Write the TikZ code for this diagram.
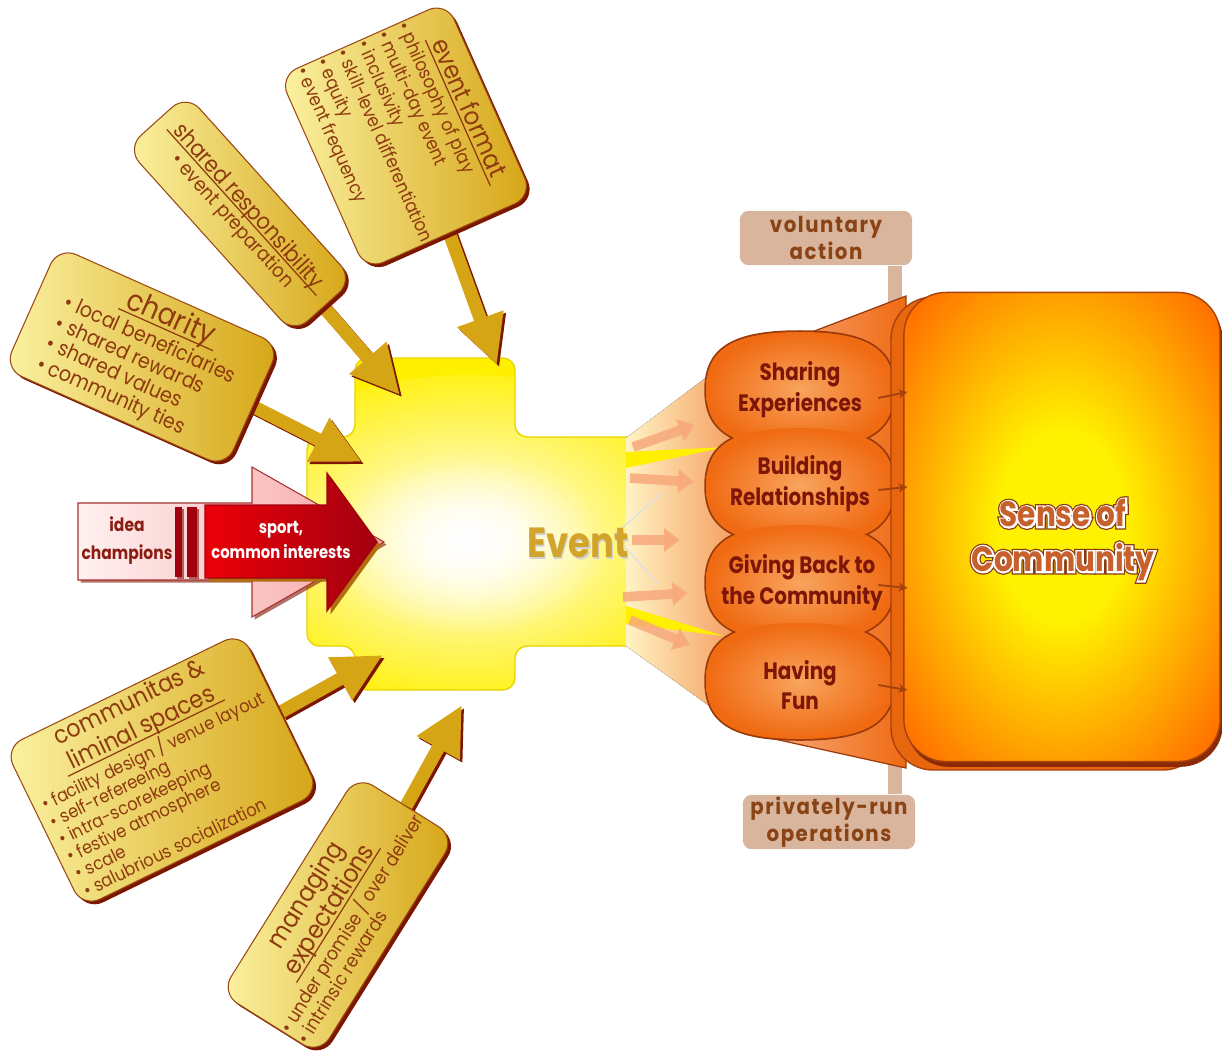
\documentclass[tikz,border=0pt]{standalone}
\usepackage{fontspec}
\setmainfont{Poppins}[FakeStretch=0.9]
\newfontfamily\heavy{Poppins}[FakeStretch=0.84]
\newfontfamily\heavyspaced{Poppins}[FakeStretch=0.9,LetterSpace=7]
\newfontfamily\haloinner{Poppins}[FakeStretch=0.84,FakeBold=10]
\newfontfamily\halouter{Poppins}[FakeStretch=0.84,FakeBold=17]
\usetikzlibrary{arrows.meta,shadows,fadings}

\definecolor{goldlight}{HTML}{FBF2A2}
\definecolor{golddark}{HTML}{D6A516}
\definecolor{goldedge}{HTML}{9A4A12}
\definecolor{darkshadow}{HTML}{7C1600}
\definecolor{calltext}{HTML}{8E3A0E}
\definecolor{evyellow}{HTML}{FFF000}
\definecolor{evedge}{HTML}{E8D400}
\definecolor{evgold}{HTML}{D2A42C}
\definecolor{fanlight}{HTML}{FFF3C4}
\definecolor{fandark}{HTML}{F59A5C}
\definecolor{peach}{HTML}{F7A97C}
\definecolor{bubble}{HTML}{F06A12}
\definecolor{bubblelight}{HTML}{F8A45E}
\definecolor{bubedge}{HTML}{9A3A0A}
\definecolor{bubbletext}{HTML}{7E1608}
\definecolor{boxorange}{HTML}{FF6C00}
\definecolor{boxyellow}{HTML}{FFF200}
\definecolor{boxside}{HTML}{E8660E}
\definecolor{boxedge}{HTML}{A8420C}
\definecolor{boxshadow}{HTML}{8A2A06}
\definecolor{sensetext}{HTML}{C8602C}
\definecolor{sensedark}{HTML}{8A3A10}
\definecolor{arrowbrown}{HTML}{A4420E}
\definecolor{tanbar}{HTML}{D8B59C}
\definecolor{tantext}{HTML}{8A4314}
\definecolor{pinklight}{HTML}{FFF1F1}
\definecolor{pinkdark}{HTML}{F5A3A3}
\definecolor{pinkedge}{HTML}{A83030}
\definecolor{redlight}{HTML}{EC0008}
\definecolor{reddark}{HTML}{A20010}
\definecolor{champtext}{HTML}{8B1E14}

\pgfdeclareradialshading{senseglow}{\pgfpoint{0bp}{0bp}}{%
  color(0bp)=(boxyellow); color(10bp)=(boxyellow); color(34bp)=(boxorange); color(70bp)=(boxorange)}
\tikzfading[name=glowfade, inner color=transparent!0, outer color=transparent!100]

\pgfdeclarelayer{stems}
\pgfdeclarelayer{boxes}
\pgfsetlayers{main,stems,boxes}

\setlength\arrayrulewidth{0.7pt}
% underlined heading and bullet list of a callout
\newcommand\callhead[3]{{\fontsize{#1}{#2}\selectfont
  \begin{tabular}{@{\hspace{3pt}}c@{\hspace{3pt}}}#3\\[-3pt]\hline\end{tabular}}}
\newcommand\calllist[3]{{\fontsize{#1}{#2}\selectfont
  \begin{tabular}{@{}l@{}}#3\end{tabular}}}

\tikzset{
  callout/.style={draw=goldedge, line width=0.6pt, rounded corners=11pt,
    left color=goldlight, right color=golddark, text=calltext,
    align=center, inner sep=1pt,
    drop shadow={shadow xshift=1.8pt, shadow yshift=-1.8pt, fill=darkshadow, opacity=1}},
  goldstem/.style={draw=golddark, line width=7.5pt, -{Triangle[length=28pt,width=26pt]},
    preaction={draw=darkshadow, line width=7.5pt, -{Triangle[length=28pt,width=26pt]},
      transform canvas={shift={(1.4pt,-1.4pt)}}}},
  peacharrow/.style={draw=peach, opacity=0.85, line width=5.5pt,
    -{Triangle[length=9pt,width=13pt]}},
  bubtext/.style={text=bubbletext, font=\heavy\bfseries\fontsize{13.5}{17.5}\selectfont,
    align=center, minimum width=107pt, minimum height=58pt, inner sep=0pt},
  smallarrow/.style={draw=arrowbrown, line width=1.1pt, -{Stealth[length=5pt,width=5pt]}},
  sidelabel/.style={fill=tanbar, rounded corners=5pt, text=tantext,
    font=\heavyspaced\bfseries\fontsize{12.5}{15.5}\selectfont, align=center,
    minimum width=98pt, minimum height=31pt, inner sep=1pt},
  evtext/.style={font=\heavy\bfseries\fontsize{24}{24}\selectfont, text=evgold},
  sensebox/.style={draw=boxedge, line width=0.8pt, rounded corners=24pt, shade, shading=senseglow,
    minimum width=180pt, minimum height=267pt, outer sep=0pt,
    drop shadow={shadow xshift=1.5pt, shadow yshift=-3pt, fill=boxshadow, opacity=1}},
  sensetext/.style={align=center},
  champtext/.style={font=\heavy\bfseries\fontsize{10.5}{16}\selectfont, align=center}
}

\begin{document}
\begin{tikzpicture}[x=0.02cm, y=-0.02cm]
\useasboundingbox (0,0) rectangle (1222,1061);

% labels at both ends of the bar
\coordinate (barx) at (895,0);
\node[sidelabel] (vol) at (826,238) {voluntary\\action};
\node[sidelabel] (priv) at (829,822) {privately-run\\operations};
\draw[draw=tanbar, line width=8pt] (vol.south -| barx) -- (priv.north -| barx);

% funnel from the bubbles to the big box
\draw[draw=bubedge, line width=0.7pt, left color=peach, right color=bubble]
  (770,348) -- (906,296) -- (906,768) -- (770,738) -- cycle;

% event cross with its glow
\draw[draw=evedge, line width=0.8pt, fill=evyellow, rounded corners=7pt,
  path picture={
    \fill[white, path fading=glowfade] (468,545) ellipse [x radius=270, y radius=170];
    \fill[white, path fading=glowfade] (468,545) ellipse [x radius=140, y radius=90];}]
  (355,358) -- (515,358) -- (515,437) -- (705,437) -- (705,646) -- (515,646)
  -- (515,690) -- (355,690) -- (355,646) -- (307,646) -- (307,437) -- (355,437) -- cycle;

% fan towards the bubbles
\fill[left color=fanlight, right color=fandark]
  (626,438) -- (740,352) -- (740,728) -- (626,646) -- cycle;
\fill[evyellow] (626,452) -- (726,447) -- (626,468) -- cycle;
\fill[evyellow] (626,606) -- (724,636) -- (626,624) -- cycle;
\draw[black!12, line width=0.8pt] (662,493) -- (614,535) -- (658,584);

\node[evtext, text=black!18] at ([shift={(1.5,1.5)}]578,543) {Event};
\node[evtext] (evt) at (578,543) {Event};

\draw[peacharrow] (633,447) -- (695,425);
\draw[peacharrow] (630,478) -- (694,482);
\draw[peacharrow] (632,540) -- (680,540);
\draw[peacharrow] (623,597) -- (688,593);
\draw[peacharrow] (630,620) -- (690,645);

% bubbles: outlines first, then the fills
\foreach \y in {390,486,583,681}
  \draw[draw=bubedge, line width=2pt] (706,\y) .. controls (706,\y-42) and (734,\y-58) .. (800,\y-58)
    .. controls (866,\y-58) and (894,\y-42) .. (894,\y) .. controls (894,\y+42) and (866,\y+58) .. (800,\y+58)
    .. controls (734,\y+58) and (706,\y+42) .. (706,\y) -- cycle;
\foreach \y in {390,486,583,681}
  \shade[inner color=bubblelight, outer color=bubble] (706,\y) .. controls (706,\y-42) and (734,\y-58) .. (800,\y-58)
    .. controls (866,\y-58) and (894,\y-42) .. (894,\y) .. controls (894,\y+42) and (866,\y+58) .. (800,\y+58)
    .. controls (734,\y+58) and (706,\y+42) .. (706,\y) -- cycle;

\node[bubtext] (share) at (800,390) {Sharing\\Experiences};
\node[bubtext] (build) at (800,484) {Building\\Relationships};
\node[bubtext] (give) at (802,583) {Giving Back to\\the Community};
\node[bubtext] (fun) at (800,685) {Having\\Fun};

% big box
\draw[draw=boxedge, line width=0.8pt, fill=boxside, rounded corners=24pt] (891,297) rectangle (1205,770);
\node[sensebox] (sense) at (1062,527) {};
\coordinate (sensemid) at (1063,540);
\node[sensetext, text=sensedark, font=\halouter\bfseries\fontsize{20}{25.5}\selectfont] at (sensemid) {Sense of\\Community};
\node[sensetext, text=white, font=\haloinner\bfseries\fontsize{20}{25.5}\selectfont] at (sensemid) {Sense of\\Community};
\node[sensetext, text=sensetext, font=\heavy\bfseries\fontsize{20}{25.5}\selectfont] (sensetxt) at (sensemid) {Sense of\\Community};

\draw[smallarrow] ([shift={(-16,8)}]share.east) -- ([shift={(13,2)}]share.east);
\draw[smallarrow] ([shift={(-16,6)}]build.east) -- ([shift={(13,3)}]build.east);
\draw[smallarrow] ([shift={(-18,2)}]give.east) -- ([shift={(11,5)}]give.east);
\draw[smallarrow] ([shift={(-16,0)}]fun.east) -- ([shift={(13,5)}]fun.east);

% idea champions arrow
\draw[draw=pinkedge, line width=0.6pt, left color=pinklight, right color=pinkdark,
  drop shadow={shadow xshift=1.5pt, shadow yshift=-1.5pt, fill=darkshadow, opacity=0.6}]
  (78,503) -- (252,503) -- (252,467) -- (384,542) -- (252,617) -- (252,580) -- (78,580) -- cycle;
\fill[reddark, drop shadow={shadow xshift=1.2pt, shadow yshift=-1.2pt, fill=darkshadow, opacity=0.6}]
  (175,507) rectangle (182,577);
\fill[reddark, drop shadow={shadow xshift=1.2pt, shadow yshift=-1.2pt, fill=darkshadow, opacity=0.6}]
  (187,507) rectangle (197,577);
\draw[draw=reddark, line width=0.6pt, left color=redlight, right color=reddark,
  drop shadow={shadow xshift=2pt, shadow yshift=-2pt, fill=golddark!60!darkshadow, opacity=1}]
  (205,505) -- (327,505) -- (327,473) -- (377,542) -- (327,611) -- (327,578) -- (205,578) -- cycle;
\node[champtext, text=champtext] (champ) at (127,541) {idea\\champions};
\node[champtext, text=white, font=\heavy\bfseries\fontsize{10}{14}\selectfont] (sport) at (281,540) {sport,\\common interests};

% the five callouts
\begin{pgfonlayer}{boxes}
\node[callout, rotate=-66, minimum width=120pt, minimum height=104pt] (fmt) at (406,136)
  {\callhead{14.5}{16}{event format}\\[1pt]
   \calllist{10.5}{12.6}{\textbullet\ philosophy of play\\ \textbullet\ multi-day event\\
     \textbullet\ inclusivity\\ \textbullet\ skill-level differentiation\\
     \textbullet\ equity\\ \textbullet\ event frequency}};
\node[callout, rotate=-48, minimum width=142pt, minimum height=46pt] (resp) at (240,214)
  {\callhead{13}{13.5}{shared responsibility}\\[1pt]
   \calllist{11.2}{11.5}{\textbullet\ event preparation\hspace{2.2em}}};
\node[callout, rotate=-24, minimum width=138pt, minimum height=76pt] (charity) at (142,357)
  {\hspace*{1.2em}\callhead{17}{16}{charity}\\[2pt]
   \calllist{12}{12.6}{\textbullet\ local beneficiaries\\ \textbullet\ shared rewards\\
     \textbullet\ shared values\\ \textbullet\ community ties}};
\node[callout, rotate=26, minimum width=150pt, minimum height=92pt] (commun) at (162,770)
  {\callhead{14}{16}{communitas \&\\ liminal spaces}\\[1pt]
   \calllist{10.3}{10.4}{\textbullet\ facility design / venue layout\\ \textbullet\ self-refereeing\\
     \textbullet\ intra-scorekeeping\\ \textbullet\ festive atmosphere\\
     \textbullet\ scale\\ \textbullet\ salubrious socialization}};
\node[callout, rotate=58, minimum width=134pt, minimum height=66pt] (manage) at (338,915)
  {\callhead{14.5}{15}{managing\\ expectations}\\[1pt]
   \calllist{10.8}{11.5}{\textbullet\ under promise / over deliver\\ \textbullet\ intrinsic rewards}};
\end{pgfonlayer}

% stems into the event
\begin{pgfonlayer}{stems}
\coordinate (fmttip) at (497,365);
\coordinate (resptip) at (400,395);
\coordinate (charitytip) at (362,462);
\coordinate (communtip) at (383,655);
\coordinate (managetip) at (462,705);
\draw[goldstem] (fmt.east) -- (fmttip);
\draw[goldstem] (resp.east) -- (resptip);
\draw[goldstem] (charity.east) -- (charitytip);
\draw[goldstem] (commun.east) -- (communtip);
\draw[goldstem] (manage.east) -- (managetip);
\end{pgfonlayer}
\end{tikzpicture}
\end{document}
